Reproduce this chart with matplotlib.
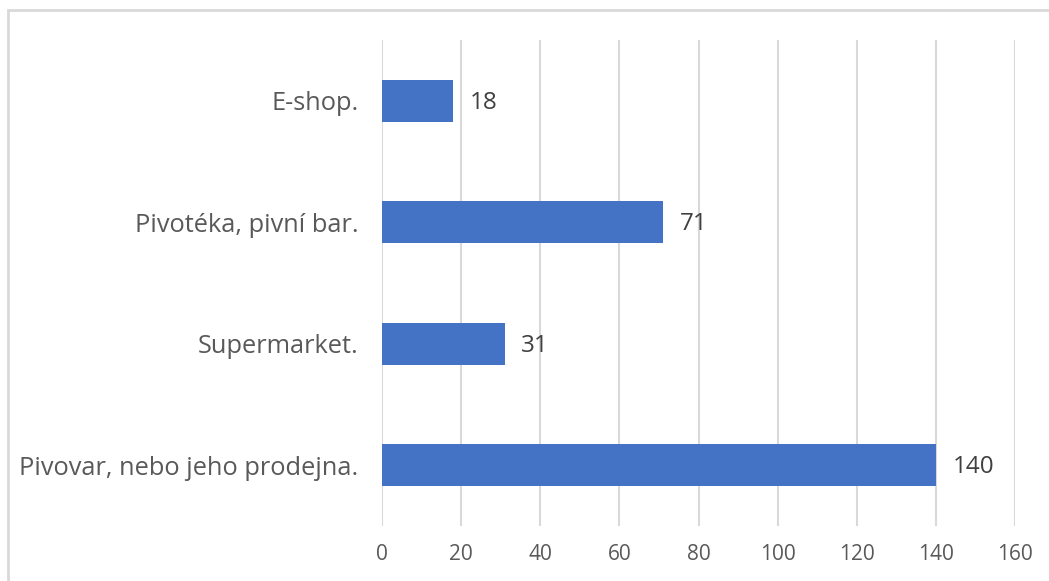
import matplotlib.pyplot as plt
from matplotlib.patches import Rectangle

# Data (bottom to top)
categories = ["Pivovar, nebo jeho prodejna.", "Supermarket.", "Pivotéka, pivní bar.", "E-shop."]
values = [140, 31, 71, 18]
xticks = [0, 20, 40, 60, 80, 100, 120, 140, 160]

plt.rcParams['font.family'] = ['Open Sans', 'DejaVu Sans']

fig = plt.figure(figsize=(10.49, 5.81), dpi=100)
ax = fig.add_axes([0.3642, 0.0947, 0.6034, 0.8365])

# outer chart frame
fig.patches.append(Rectangle((8 / 1049, -0.05), 1.1, 1 - 10 / 581 + 0.05,
                             transform=fig.transFigure, fill=False,
                             edgecolor='#d9d9d9', linewidth=2))

y = range(len(categories))
ax.barh(y, values, height=0.345, color='#4472C4', zorder=3)
for yi, v in zip(y, values):
    ax.text(v + 4.2, yi - 0.015, str(v), va='center', ha='left', fontsize=17.5, color='#404040')

ax.set_xlim(0, 160)
ax.set_ylim(-0.5, len(categories) - 0.5)
ax.set_xticks(xticks)
ax.set_yticks(list(y))
ax.set_yticklabels(categories)
ax.grid(axis='x', color='#d9d9d9', linewidth=1.5, zorder=0)
for s in ax.spines.values():
    s.set_visible(False)
ax.tick_params(axis='x', length=0, pad=13, labelsize=15, labelcolor='#595959')
ax.tick_params(axis='y', length=0, pad=17, labelsize=18.3, labelcolor='#595959')

fig.savefig('out.png', dpi=100)
